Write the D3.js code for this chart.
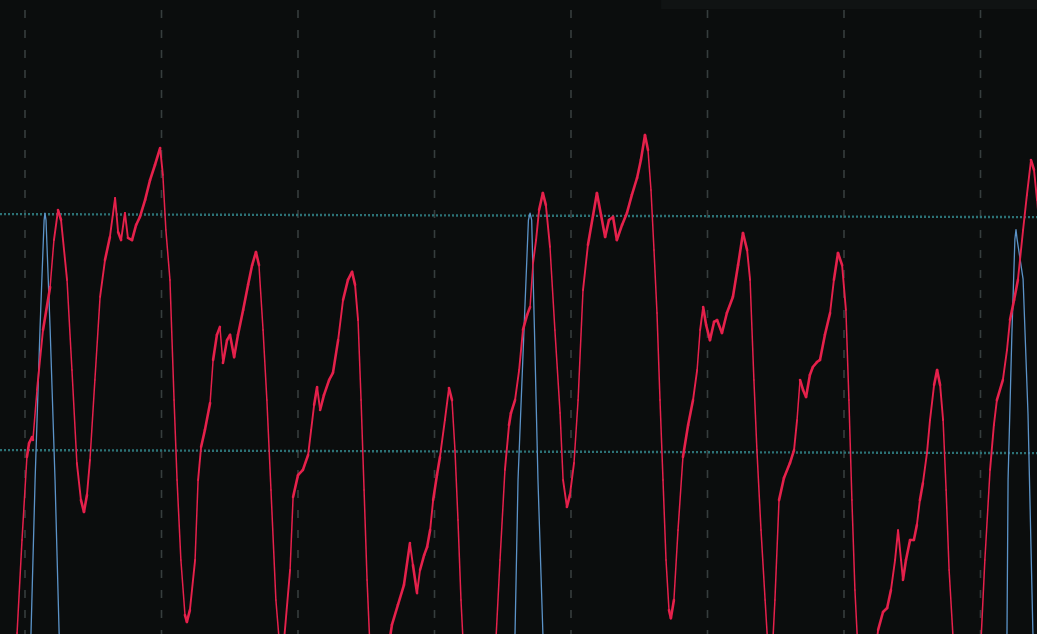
<!DOCTYPE html>
<html>
<head>
<meta charset="utf-8">
<script src="https://cdn.jsdelivr.net/npm/d3@7"></script>
<style>
  html, body { margin: 0; padding: 0; background: #0b0d0d; overflow: hidden; }
  svg { display: block; }
</style>
</head>
<body>
<svg id="scope" width="1037" height="634"></svg>
<script>
// Time divisions (ms) for the vertical graticule
const timeGrid = [0, 5, 10, 15, 20, 25, 30, 35];

// Cursor levels (V): value at the left edge and at the right edge of the screen
const levelLines = [
  { start: 1.006, end: 0.993 },
  { start: 0.006, end: -0.007 }
];

// Channel 1 (red) samples: [time ms, volts]
const redTrace = [
  [-0.37,-0.883],[-0.29,-0.769],[-0.11,-0.375],[0.07,-0.023],[0.15,0.036],[0.26,0.061],[0.29,0.049],
  [0.44,0.261],[0.66,0.515],[0.92,0.697],[1.06,0.896],[1.21,1.023],[1.32,0.981],[1.54,0.727],
  [1.72,0.345],[1.90,-0.049],[2.05,-0.206],[2.16,-0.256],[2.27,-0.184],[2.38,-0.036],[2.56,0.303],
  [2.75,0.655],[2.93,0.811],[3.11,0.909],[3.30,1.074],[3.41,0.930],[3.52,0.896],[3.66,1.011],
  [3.77,0.905],[3.92,0.896],[4.07,0.960],[4.21,0.994],[4.40,1.066],[4.58,1.150],[4.76,1.214],
  [4.95,1.286],[5.05,1.172],[5.16,0.939],[5.31,0.727],[5.46,0.218],[5.57,-0.121],[5.71,-0.460],
  [5.86,-0.693],[5.93,-0.722],[6.04,-0.672],[6.23,-0.460],[6.34,-0.121],[6.45,0.019],[6.59,0.091],
  [6.78,0.205],[6.89,0.388],[7.03,0.494],[7.14,0.528],[7.25,0.375],[7.40,0.472],[7.51,0.494],
  [7.66,0.400],[7.80,0.494],[7.99,0.600],[8.17,0.706],[8.32,0.790],[8.46,0.845],[8.57,0.790],
  [8.72,0.515],[8.86,0.218],[9.01,-0.163],[9.19,-0.629],[9.34,-0.841],[9.49,-0.799],[9.71,-0.502],
  [9.82,-0.193],[10.00,-0.100],[10.18,-0.078],[10.37,-0.015],[10.48,0.091],[10.59,0.197],
  [10.70,0.273],[10.81,0.176],[10.95,0.239],[11.14,0.303],[11.28,0.333],[11.47,0.472],[11.65,0.642],
  [11.83,0.727],[11.98,0.761],[12.09,0.706],[12.20,0.557],[12.31,0.218],[12.42,-0.163],
  [12.53,-0.544],[12.64,-0.841],[13.00,-0.968],[13.30,-0.841],[13.44,-0.735],[13.66,-0.650],
  [13.88,-0.566],[14.10,-0.388],[14.21,-0.481],[14.36,-0.600],[14.47,-0.502],[14.62,-0.439],
  [14.73,-0.405],[14.84,-0.333],[14.95,-0.206],[15.09,-0.100],[15.20,-0.023],[15.38,0.133],
  [15.53,0.269],[15.64,0.218],[15.75,0.006],[15.86,-0.290],[15.97,-0.629],[16.08,-0.883],
  [17.03,-0.968],[17.25,-0.799],[17.40,-0.460],[17.58,-0.078],[17.73,0.112],[17.80,0.163],
  [17.95,0.218],[18.10,0.345],[18.24,0.515],[18.39,0.578],[18.50,0.612],[18.61,0.799],[18.72,0.896],
  [18.83,1.023],[18.97,1.095],[19.08,1.044],[19.23,0.867],[19.41,0.515],[19.60,0.163],[19.71,-0.121],
  [19.85,-0.235],[19.96,-0.184],[20.11,-0.049],[20.26,0.218],[20.44,0.684],[20.62,0.875],
  [20.81,1.002],[20.95,1.095],[21.10,1.002],[21.25,0.909],[21.39,0.981],[21.54,0.994],[21.68,0.896],
  [21.87,0.960],[22.05,1.011],[22.23,1.087],[22.42,1.159],[22.56,1.235],[22.71,1.341],[22.82,1.278],
  [22.93,1.108],[23.04,0.854],[23.15,0.587],[23.26,0.218],[23.37,-0.121],[23.48,-0.460],
  [23.59,-0.672],[23.66,-0.706],[23.77,-0.629],[23.92,-0.333],[24.10,-0.023],[24.29,0.112],
  [24.47,0.218],[24.62,0.345],[24.73,0.515],[24.84,0.612],[24.95,0.536],[25.09,0.472],[25.24,0.549],
  [25.35,0.557],[25.53,0.502],[25.71,0.587],[25.93,0.655],[26.12,0.790],[26.30,0.926],[26.45,0.854],
  [26.56,0.727],[26.70,0.303],[26.81,0.006],[26.96,-0.333],[27.11,-0.629],[27.22,-0.841],
  [27.36,-0.883],[27.47,-0.629],[27.62,-0.206],[27.80,-0.112],[28.02,-0.049],[28.17,0.006],
  [28.28,0.133],[28.39,0.303],[28.50,0.261],[28.61,0.231],[28.75,0.324],[28.86,0.358],[29.01,0.379],
  [29.12,0.388],[29.30,0.494],[29.49,0.587],[29.63,0.727],[29.78,0.841],[29.93,0.790],[30.07,0.600],
  [30.18,0.218],[30.29,-0.206],[30.40,-0.587],[30.51,-0.841],[31.03,-0.968],[31.25,-0.756],
  [31.43,-0.680],[31.58,-0.663],[31.72,-0.587],[31.87,-0.460],[31.98,-0.333],[32.09,-0.460],
  [32.16,-0.544],[32.27,-0.460],[32.42,-0.375],[32.56,-0.375],[32.67,-0.311],[32.78,-0.206],
  [32.89,-0.134],[33.04,-0.006],[33.15,0.133],[33.30,0.282],[33.41,0.345],[33.52,0.282],[33.63,0.133],
  [33.74,-0.163],[33.85,-0.502],[34.00,-0.799],[34.80,-0.968],[35.02,-0.799],[35.16,-0.460],
  [35.35,-0.078],[35.49,0.112],[35.60,0.218],[35.82,0.303],[35.97,0.430],[36.08,0.557],[36.23,0.642],
  [36.37,0.727],[36.56,0.939],[36.70,1.087],[36.85,1.235],[36.96,1.193],[37.07,1.066],[37.18,0.896]
];

// Channel 2 (blue) samples: [time ms, volts]
const blueTrace = [
  [-1.00,-0.90],[0.10,-0.90],[0.22,-0.77],[0.37,-0.12],[0.55,0.52],[0.70,0.98],[0.73,1.01],
  [0.77,0.98],[0.92,0.52],[1.10,-0.12],[1.25,-0.77],[1.37,-0.90],
  [17.85,-0.90],[17.95,-0.77],[18.06,-0.12],[18.28,0.52],[18.44,0.98],[18.50,1.01],[18.56,0.98],
  [18.66,0.52],[18.79,-0.12],[18.97,-0.77],[19.07,-0.90],
  [35.85,-0.90],[35.97,-0.77],[36.01,-0.12],[36.15,0.50],[36.26,0.90],[36.30,0.94],[36.34,0.90],
  [36.56,0.73],[36.74,0.16],[36.92,-0.77],[37.02,-0.90],[38.00,-0.90]
];

const W = 1037, H = 634;
const svg = d3.select("#scope");

const x = d3.scaleLinear().domain([0, 35]).range([25, 980.5]);
const y = d3.scaleLinear().domain([0, 1]).range([451.5, 215.5]);

// Screen background
svg.append("rect").attr("width", W).attr("height", H).attr("fill", "#0b0d0d");
svg.append("rect").attr("x", x(23.3)).attr("y", 0).attr("width", W - x(23.3)).attr("height", 9)
  .attr("fill", "#101313");

const defs = svg.append("defs");
defs.append("clipPath").attr("id", "screen")
  .append("rect").attr("width", W).attr("height", H);
const soft = defs.append("filter").attr("id", "soft")
  .attr("x", "-5%").attr("y", "-5%").attr("width", "110%").attr("height", "110%");
soft.append("feGaussianBlur").attr("stdDeviation", 0.45);

// Vertical graticule
svg.append("g").selectAll("line").data(timeGrid).join("line")
  .attr("x1", d => x(d)).attr("x2", d => x(d))
  .attr("y1", 10).attr("y2", H)
  .attr("stroke", "#363d3d").attr("stroke-width", 1.6)
  .attr("stroke-dasharray", "8,12");

// Cursor level lines
svg.append("g").selectAll("line").data(levelLines).join("line")
  .attr("x1", 0).attr("x2", W)
  .attr("y1", d => y(d.start)).attr("y2", d => y(d.end))
  .attr("stroke", "#2c7276").attr("stroke-width", 2.4)
  .attr("stroke-dasharray", "2,2");

const traceLine = d3.line().x(d => x(d[0])).y(d => y(d[1]));

const traces = svg.append("g").attr("clip-path", "url(#screen)").attr("filter", "url(#soft)");

traces.append("path").datum(blueTrace)
  .attr("d", traceLine)
  .attr("fill", "none")
  .attr("stroke", "#5b93c8")
  .attr("stroke-width", 1.3)
  .attr("stroke-linejoin", "round");

// Fast edges leave a fainter, thinner trace than slow ones, like a phosphor display
const beamWidth = (a, b) => {
  const dx = Math.abs(x(b[0]) - x(a[0])), dy = Math.abs(y(b[1]) - y(a[1]));
  const slope = dy / Math.max(dx, 0.01);
  return slope > 12 ? 1.5 : slope > 7 ? 1.9 : 2.6;
};

traces.append("g").selectAll("line").data(d3.pairs(redTrace)).join("line")
  .attr("x1", d => x(d[0][0])).attr("y1", d => y(d[0][1]))
  .attr("x2", d => x(d[1][0])).attr("y2", d => y(d[1][1]))
  .attr("stroke", "#e5204b")
  .attr("stroke-width", d => beamWidth(d[0], d[1]))
  .attr("stroke-linecap", "round");
</script>
</body>
</html>
